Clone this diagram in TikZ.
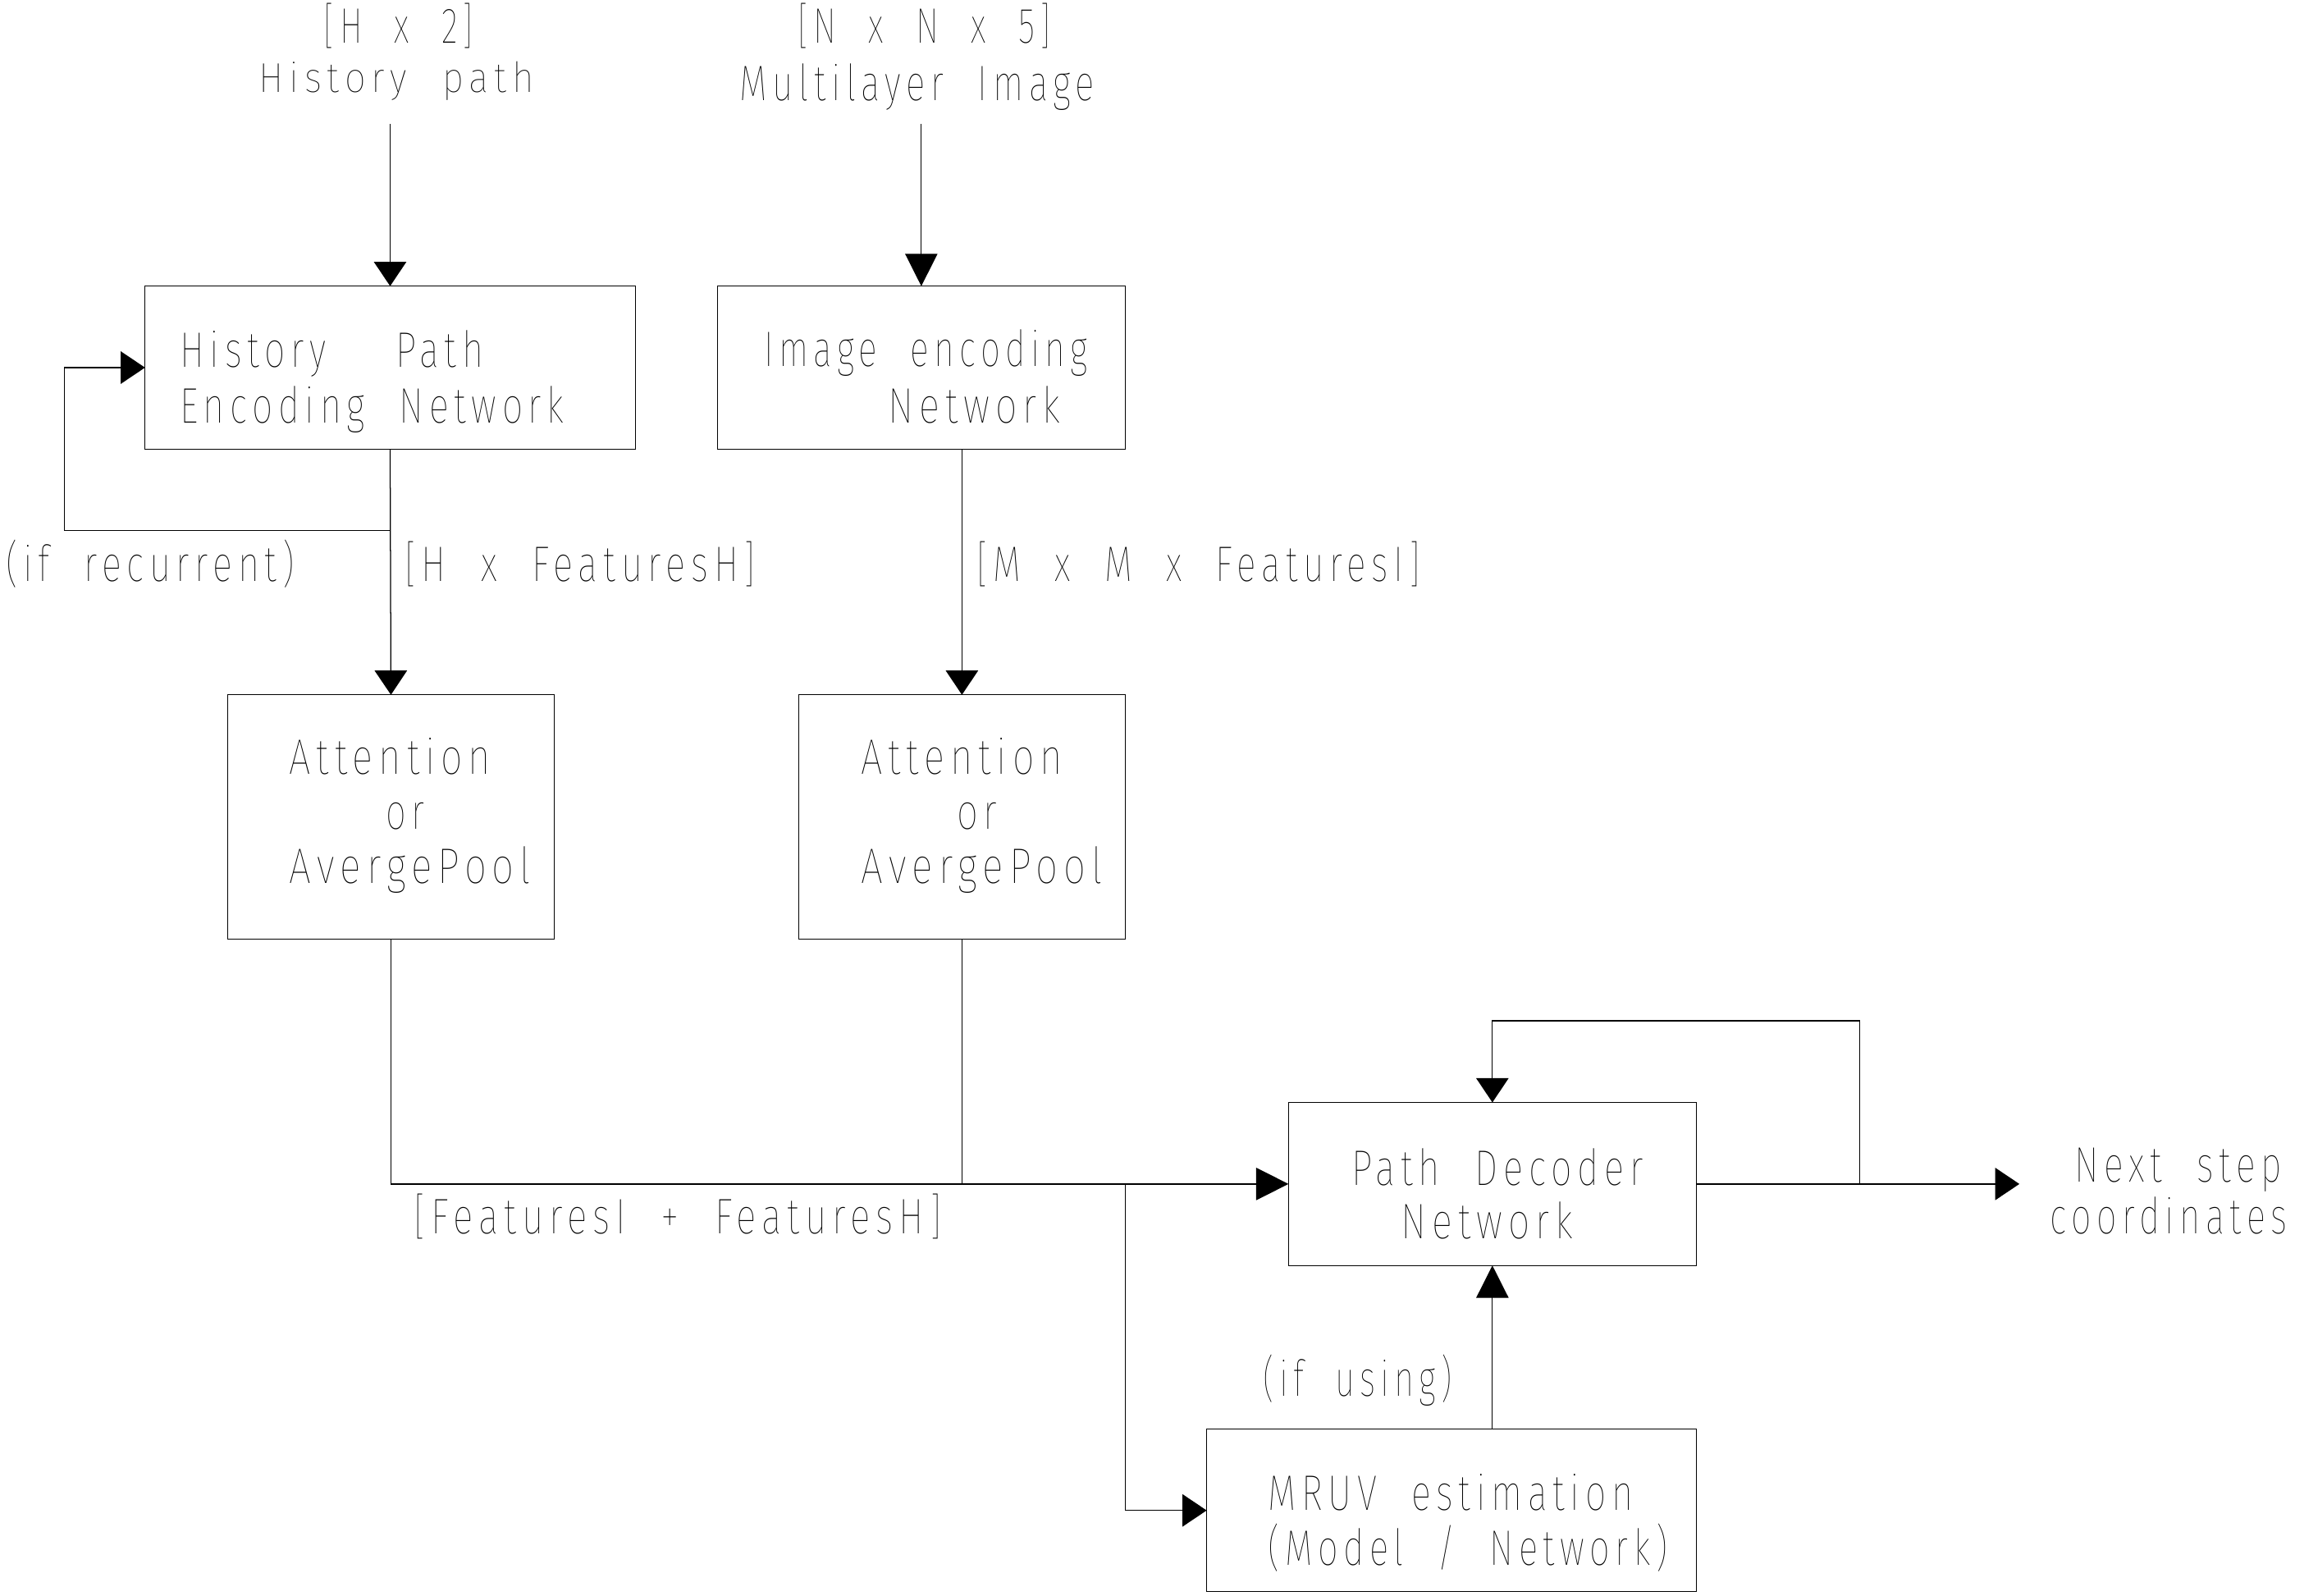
\documentclass[tikz,border=0pt]{standalone}
\usepackage{fontspec}
\usepackage{graphicx}
\usetikzlibrary{arrows.meta}
\IfFontExistsTF{Fira Sans Thin}{%
  \newfontfamily\cad{Fira Sans Thin}[FakeStretch=0.8,LetterSpace=12,WordSpace=2.1]}{%
  \IfFontExistsTF{Fira Sans ExtraLight}{%
    \newfontfamily\cad{Fira Sans ExtraLight}[FakeStretch=0.8,LetterSpace=12,WordSpace=2.1]}{%
    \IfFontExistsTF{Fira Sans Light}{%
      \newfontfamily\cad{Fira Sans Light}[FakeStretch=0.8,LetterSpace=12,WordSpace=2.1]}{%
      \newfontfamily\cad{Fira Sans}[FakeStretch=0.8,LetterSpace=12,WordSpace=2.1]}}}
\newcommand\cadfit[2]{\resizebox{#1pt}{\height}{#2}}
\begin{document}
\begin{tikzpicture}[x=1pt,y=-1pt,
  box/.style={draw, line width=0.7pt, inner sep=0pt, outer sep=0pt},
  txt/.style={anchor=base west, inner sep=0pt, outer sep=0pt, font=\cad\fontsize{34}{40}\selectfont},
  smalltxt/.style={txt, font=\cad\fontsize{28.4}{34}\selectfont},
  wire/.style={line width=0.7pt},
  sarrow/.style={wire, -{Triangle[length=16.5pt,width=22pt]}},
  larrow/.style={wire, -{Triangle[length=22pt,width=22pt]}},
]
\useasboundingbox (0,0) rectangle (1568,1085.6);

% boxes
\node[box, minimum width=333.6pt, minimum height=110.9pt] (hist) at (265.5,250.15) {};
\node[box, minimum width=277.4pt, minimum height=110.9pt] (img) at (627,250.15) {};
\node[box, minimum width=222.1pt, minimum height=166.2pt] (att1) at (266.05,555.9) {};
\node[box, minimum width=222.1pt, minimum height=166.2pt] (att2) at (654.65,555.9) {};
\node[box, minimum width=277.5pt, minimum height=111pt] (dec) at (1015.65,805.7) {};
\node[box, minimum width=333.2pt, minimum height=110.7pt] (mruv) at (987.8,1027.85) {};

% texts
\node[txt] (t1) at (220.4,29.4) {\cadfit{101.8}{[H x 2]}};
\node[smalltxt] (t2) at (176.1,62.7) {\cadfit{187.3}{History path}};
\node[txt] (t3) at (542.8,29.4) {\cadfit{172.4}{[N x N x 5]}};
\node[txt] (t4) at (503.6,68.6) {\cadfit{241.4}{Multilayer Image}};
\node[txt] (t5) at (122.6,250) {\cadfit{206.4}{History~~Path}};
\node[txt] (t6) at (122.6,287.7) {\cadfit{261.4}{Encoding Network}};
\node[txt] (t7) at (520.1,249.5) {\cadfit{220.1}{Image encoding}};
\node[txt] (t8) at (604.3,287.9) {\cadfit{117.5}{Network}};
\node[txt] (t9) at (275.3,395.6) {\cadfit{238.9}{[H x FeaturesH]}};
\node[txt] (t10) at (4,395.5) {\cadfit{196.4}{(if recurrent)}};
\node[txt] (t11) at (664.6,395.6) {\cadfit{302}{[M x M x FeaturesI]}};
\node[txt] (t12) at (196.9,527) {\cadfit{137.1}{Attention}};
\node[txt] (t13) at (262.7,564.1) {\cadfit{26.3}{or}};
\node[txt] (t14) at (196.9,601.3) {\cadfit{164.5}{AvergePool}};
\node[txt] (t15) at (585.9,527) {\cadfit{137.1}{Attention}};
\node[txt] (t16) at (651.3,564.1) {\cadfit{27.5}{or}};
\node[txt] (t17) at (585.9,601.3) {\cadfit{164.5}{AvergePool}};
\node[txt] (t18) at (281.7,839.7) {\cadfit{359}{[FeaturesI + FeaturesH]}};
\node[txt] (t19) at (919.7,806.7) {\cadfit{198.5}{Path Decoder}};
\node[txt] (t20) at (953.7,842.9) {\cadfit{117}{Network}};
\node[txt] (t21) at (859.7,950.2) {\cadfit{128.4}{(if using)}};
\node[txt] (t22) at (863.1,1027.7) {\cadfit{248.2}{MRUV estimation}};
\node[txt] (t23) at (863.1,1064.9) {\cadfit{271.8}{(Model / Network)}};
\node[txt] (t24) at (1411.9,804.1) {\cadfit{141.1}{Next step}};
\node[txt] (t25) at (1395.1,839.6) {\cadfit{161.5}{coordinates}};

% coordinates
\coordinate (in1) at (265.5,84.2);
\coordinate (in2) at (627,84.2);
\coordinate (loopA) at (265.5,361.2);
\coordinate (loopB) at (43.9,361.2);
\coordinate (br) at (765.8,805.7);
\coordinate (lr) at (1265.7,805.7);
\coordinate (ltop) at (1265.7,694.7);
\coordinate (outend) at (1374.3,805.7);

% connectors
\draw[sarrow] (in1) -- (hist.north);
\draw[larrow] (in2) -- (img.north);
\draw[sarrow] (loopA) -- (loopB) |- (hist.west);
\draw[sarrow] (hist.south) -- (att1.north);
\draw[sarrow] (img.south -| att2.north) -- (att2.north);
\draw[larrow] (att1.south) -- (att1.south |- dec.west) -- (dec.west);
\draw[wire] (att2.south) -- (att2.south |- dec.west);
\draw[sarrow] (br) |- (mruv.west);
\draw[larrow] (dec.south |- mruv.north) -- (dec.south);
\draw[sarrow] (dec.east) -- (lr) -- (ltop) -| (dec.north);
\draw[sarrow] (lr) -- (outend);
\end{tikzpicture}
\end{document}
